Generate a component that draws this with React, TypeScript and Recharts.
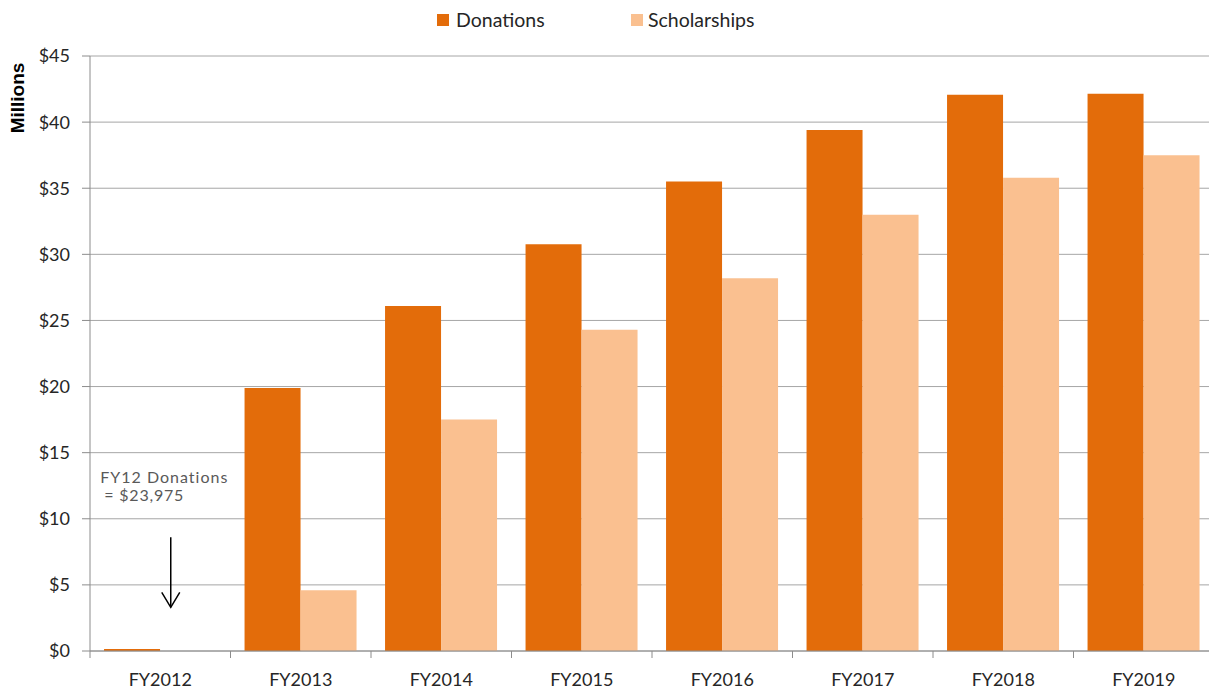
import React from 'react';
import { BarChart, Bar, XAxis, YAxis, CartesianGrid, Legend, ReferenceDot } from 'recharts';

const categories = ['FY2012', 'FY2013', 'FY2014', 'FY2015', 'FY2016', 'FY2017', 'FY2018', 'FY2019'];
const donations = [0.024, 19.9, 26.1, 30.77, 35.5, 39.4, 42.06, 42.14];
const scholarships = [0, 4.6, 17.5, 24.3, 28.2, 33.0, 35.8, 37.5];
const yTicks = [0, 5, 10, 15, 20, 25, 30, 35, 40, 45];

const DON_COLOR = '#E36C0A';
const SCH_COLOR = '#FAC090';
const FONT = 'Lato, "Open Sans", sans-serif';

const data = categories.map((c, i) => ({ name: c, donations: donations[i], scholarships: scholarships[i] }));

const XTick = (props: any) => {
  const { x, y, payload } = props;
  const off = payload && typeof payload.offset === 'number' ? payload.offset : 70.3;
  return (
    <g>
      <line x1={x - off} x2={x - off} y1={y} y2={y + 7} stroke="#8c8c8c" strokeWidth={1} />
      <text x={x} y={y + 35} textAnchor="middle" fill="#262626" fontSize={18} fontFamily={FONT}>
        {payload.value}
      </text>
    </g>
  );
};

const LegendContent = () => (
  <div style={{ display: 'flex', justifyContent: 'flex-start', alignItems: 'center', paddingLeft: 437, fontFamily: FONT, fontSize: 19.5, color: '#262626' }}>
    <div style={{ display: 'flex', alignItems: 'center', width: 194 }}>
      <span style={{ width: 12, height: 12, background: DON_COLOR, display: 'inline-block', marginRight: 7 }} />
      <span>Donations</span>
    </div>
    <div style={{ display: 'flex', alignItems: 'center' }}>
      <span style={{ width: 12, height: 12, background: SCH_COLOR, display: 'inline-block', marginRight: 5 }} />
      <span>Scholarships</span>
    </div>
  </div>
);

const Annotation = (props: any) => {
  const { cx, cy } = props;
  if (cx == null || cy == null) return null;
  const ax = cx + 10.5;
  return (
    <g>
      <text x={cx - 60} y={cy - 54.5} fill="#595959" fontSize={16} letterSpacing={1} fontFamily={FONT}>FY12 Donations</text>
      <text x={cx - 56} y={cy - 36} fill="#595959" fontSize={16} letterSpacing={0.8} fontFamily={FONT}>= $23,975</text>
      <line x1={ax} x2={ax} y1={cy} y2={cy + 70} stroke="#000" strokeWidth={1.5} />
      <polyline points={`${ax - 9},${cy + 55} ${ax},${cy + 70} ${ax + 9},${cy + 55}`} fill="none" stroke="#000" strokeWidth={1.5} />
    </g>
  );
};

export default function App() {
  return (
    <div style={{ position: 'absolute', left: 0, top: 0, width: 1209, height: 689, overflow: 'hidden', background: '#fff' }}>
      <BarChart
        width={1214}
        height={689}
        data={data}
        margin={{ top: 56, right: 0, left: 0, bottom: 0 }}
        barCategoryGap="10%"
        barGap={0}
        style={{ fontFamily: FONT }}
      >
        <CartesianGrid vertical={false} stroke="#a6a6a6" strokeWidth={1} />
        <XAxis
          dataKey="name"
          height={38}
          stroke="#8c8c8c"
          tickLine={false}
          tickSize={0}
          tickMargin={0}
          tick={<XTick />}
          interval={0}
        />
        <YAxis
          width={90}
          domain={[0, 45]}
          ticks={yTicks}
          interval={0}
          tickFormatter={(v: number) => `$${v}`}
          stroke="#8c8c8c"
          tickSize={8}
          tickMargin={12}
          tick={{ fill: '#262626', fontSize: 18, fontFamily: FONT }}
          label={{
            content: (p: any) => {
              const vb = p.viewBox || { x: 0, y: 56 };
              const lx = vb.x + 24;
              const ly = vb.y + 42;
              return (
                <text x={lx} y={ly} textAnchor="middle" transform={`rotate(-90, ${lx}, ${ly})`} fontWeight="bold" fontSize={19} fontFamily='"Liberation Sans", Arial, sans-serif' fill="#000">
                  Millions
                </text>
              );
            },
          }}
        />
        <Legend
          layout="horizontal"
          verticalAlign="middle"
          align="center"
          wrapperStyle={{ top: 8, left: 0, width: 1209 }}
          content={<LegendContent />}
        />
        <Bar dataKey="donations" name="Donations" fill={DON_COLOR} minPointSize={2} isAnimationActive={false} />
        <Bar dataKey="scholarships" name="Scholarships" fill={SCH_COLOR} isAnimationActive={false} />
        <ReferenceDot x="FY2012" y={8.6} r={0} ifOverflow="visible" shape={(p: any) => <Annotation {...p} />} />
      </BarChart>
    </div>
  );
}
